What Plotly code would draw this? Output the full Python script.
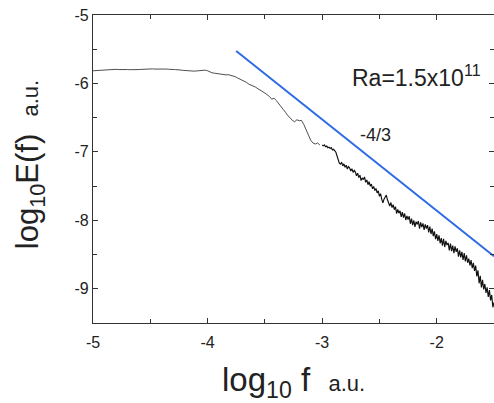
import numpy as np
import plotly.graph_objects as go

# log10 E(f) read off the picture; low band sampled every 0.02 from log10 f = -5,
# high band every 0.01 from log10 f = -3
spec_low_y = [
    -5.815, -5.812, -5.814, -5.810, -5.806, -5.800, -5.796, -5.793, -5.795, -5.792,
    -5.794, -5.797, -5.795, -5.798, -5.800, -5.797, -5.799, -5.801, -5.798, -5.800,
    -5.797, -5.795, -5.792, -5.790, -5.788, -5.789, -5.787, -5.790, -5.788, -5.791,
    -5.789, -5.792, -5.790, -5.793, -5.791, -5.796, -5.798, -5.797, -5.803, -5.808,
    -5.812, -5.815, -5.818, -5.816, -5.820, -5.818, -5.815, -5.808, -5.803, -5.806,
    -5.815, -5.835, -5.845, -5.850, -5.856, -5.862, -5.866, -5.870, -5.875, -5.872,
    -5.880, -5.886, -5.900, -5.918, -5.935, -5.950, -5.962, -5.985, -6.010, -6.022,
    -6.040, -6.055, -6.078, -6.095, -6.118, -6.140, -6.165, -6.190, -6.230, -6.215,
    -6.250, -6.300, -6.345, -6.380, -6.420, -6.470, -6.500, -6.540, -6.560, -6.530,
    -6.545, -6.540, -6.600, -6.680, -6.760, -6.830, -6.870, -6.885, -6.870, -6.900,
]
spec_high_y = [
    -6.900, -6.912, -6.898, -6.925, -6.915, -6.938, -6.930, -6.950, -6.938, -6.972,
    -6.962, -6.990, -7.005, -7.060, -7.120, -7.165, -7.180, -7.150, -7.205, -7.175,
    -7.225, -7.195, -7.250, -7.215, -7.235, -7.280, -7.245, -7.300, -7.270, -7.295,
    -7.350, -7.310, -7.375, -7.340, -7.420, -7.380, -7.405, -7.365, -7.445, -7.410,
    -7.480, -7.435, -7.500, -7.470, -7.540, -7.505, -7.565, -7.535, -7.600, -7.570,
    -7.650, -7.610, -7.690, -7.745, -7.690, -7.660, -7.630, -7.700, -7.745, -7.790,
    -7.740, -7.815, -7.770, -7.845, -7.800, -7.900, -7.840, -7.895, -7.860, -7.950,
    -7.880, -7.960, -7.900, -7.995, -7.935, -7.990, -7.940, -8.050, -7.975, -8.070,
    -8.000, -8.095, -8.020, -8.060, -8.010, -8.120, -8.030, -8.100, -8.045, -8.140,
    -8.060, -8.120, -8.070, -8.175, -8.090, -8.200, -8.120, -8.230, -8.160, -8.275,
    -8.200, -8.300, -8.220, -8.335, -8.260, -8.370, -8.270, -8.390, -8.300, -8.360,
    -8.330, -8.440, -8.340, -8.450, -8.370, -8.480, -8.380, -8.460, -8.410, -8.530,
    -8.440, -8.540, -8.460, -8.580, -8.480, -8.600, -8.510, -8.620, -8.560, -8.660,
    -8.580, -8.700, -8.620, -8.740, -8.660, -8.820, -8.730, -8.920, -8.810, -8.980,
    -8.870, -9.010, -8.930, -9.060, -8.980, -9.120, -9.020, -9.170, -9.090, -9.270,
    -9.200,
]
spec_low_x = np.round(-5.0 + 0.02 * np.arange(len(spec_low_y)), 3)
spec_high_x = np.round(-3.0 + 0.01 * np.arange(len(spec_high_y)), 3)

# -4/3 reference line end points
fit_x = [-3.75, -1.5]
fit_y = [-5.526, -8.526]

x_ticks = [-5, -4, -3, -2]
x_tick_text = ["-5", "-4", "-3", "-2"]
y_ticks = [-5, -6, -7, -8, -9]
y_tick_text = ["-5", "-6", "-7", "-8", "-9"]

FONT = "Liberation Sans, Arial, sans-serif"
AXIS_COLOR = "#333"

fig = go.Figure()
fig.add_trace(go.Scatter(
    x=spec_low_x, y=spec_low_y,
    mode="lines", line=dict(color="#3a3a3a", width=0.9), showlegend=False,
))
fig.add_trace(go.Scatter(
    x=spec_high_x, y=spec_high_y,
    mode="lines", line=dict(color="#111111", width=1.15), showlegend=False,
))
fig.add_trace(go.Scatter(
    x=fit_x, y=fit_y, mode="lines",
    line=dict(color="#2d6be6", width=2), showlegend=False,
))

axis_common = dict(
    showline=True, linecolor=AXIS_COLOR, linewidth=1.3, mirror="ticks",
    ticks="inside", ticklen=5, tickcolor=AXIS_COLOR, tickwidth=1,
    showgrid=False, zeroline=False, ticklabeloverflow="allow",
    tickfont=dict(family=FONT, size=16, color="#222"),
    minor=dict(ticks="inside", ticklen=4, tickcolor=AXIS_COLOR, dtick=0.5),
)
fig.update_xaxes(range=[-5, -1.5], tickvals=x_ticks, ticktext=x_tick_text,
                 ticklabelstandoff=5, **axis_common)
fig.update_yaxes(range=[-9.5, -5], tickvals=y_ticks, ticktext=y_tick_text, **axis_common)

fig.add_annotation(
    xref="paper", yref="paper", x=0.50, y=-0.19, xanchor="center", yanchor="middle",
    text="log<sub>10</sub> f\u00a0 <span style='font-size:22px'>a.u.</span>",
    showarrow=False, font=dict(family=FONT, size=33, color="#222"),
)
fig.add_annotation(
    xref="paper", yref="paper", x=-0.155, y=0.515, xanchor="center", yanchor="middle",
    textangle=-90,
    text="log<sub>10</sub>E(f)\u00a0 <span style='font-size:22px'>a.u.</span>",
    showarrow=False, font=dict(family=FONT, size=31, color="#222"),
)
fig.add_annotation(
    x=-2.18, y=-5.89, xanchor="center", yanchor="middle",
    text="Ra=1.5x10<sup>11</sup>", showarrow=False,
    font=dict(family=FONT, size=23, color="#222"),
)
fig.add_annotation(
    x=-2.53, y=-6.75, xanchor="center", yanchor="middle",
    text="-4/3", showarrow=False,
    font=dict(family=FONT, size=18, color="#222"),
)

fig.update_layout(
    width=494, height=403,
    margin=dict(l=93, r=0, t=15, b=80),
    paper_bgcolor="white", plot_bgcolor="white",
    font=dict(family=FONT, color="#222"),
)
# remove the default page margin so the figure fills the window exactly
fig.write_html("out.html", config={"displayModeBar": False},
               post_script="document.body.style.margin='0';")
